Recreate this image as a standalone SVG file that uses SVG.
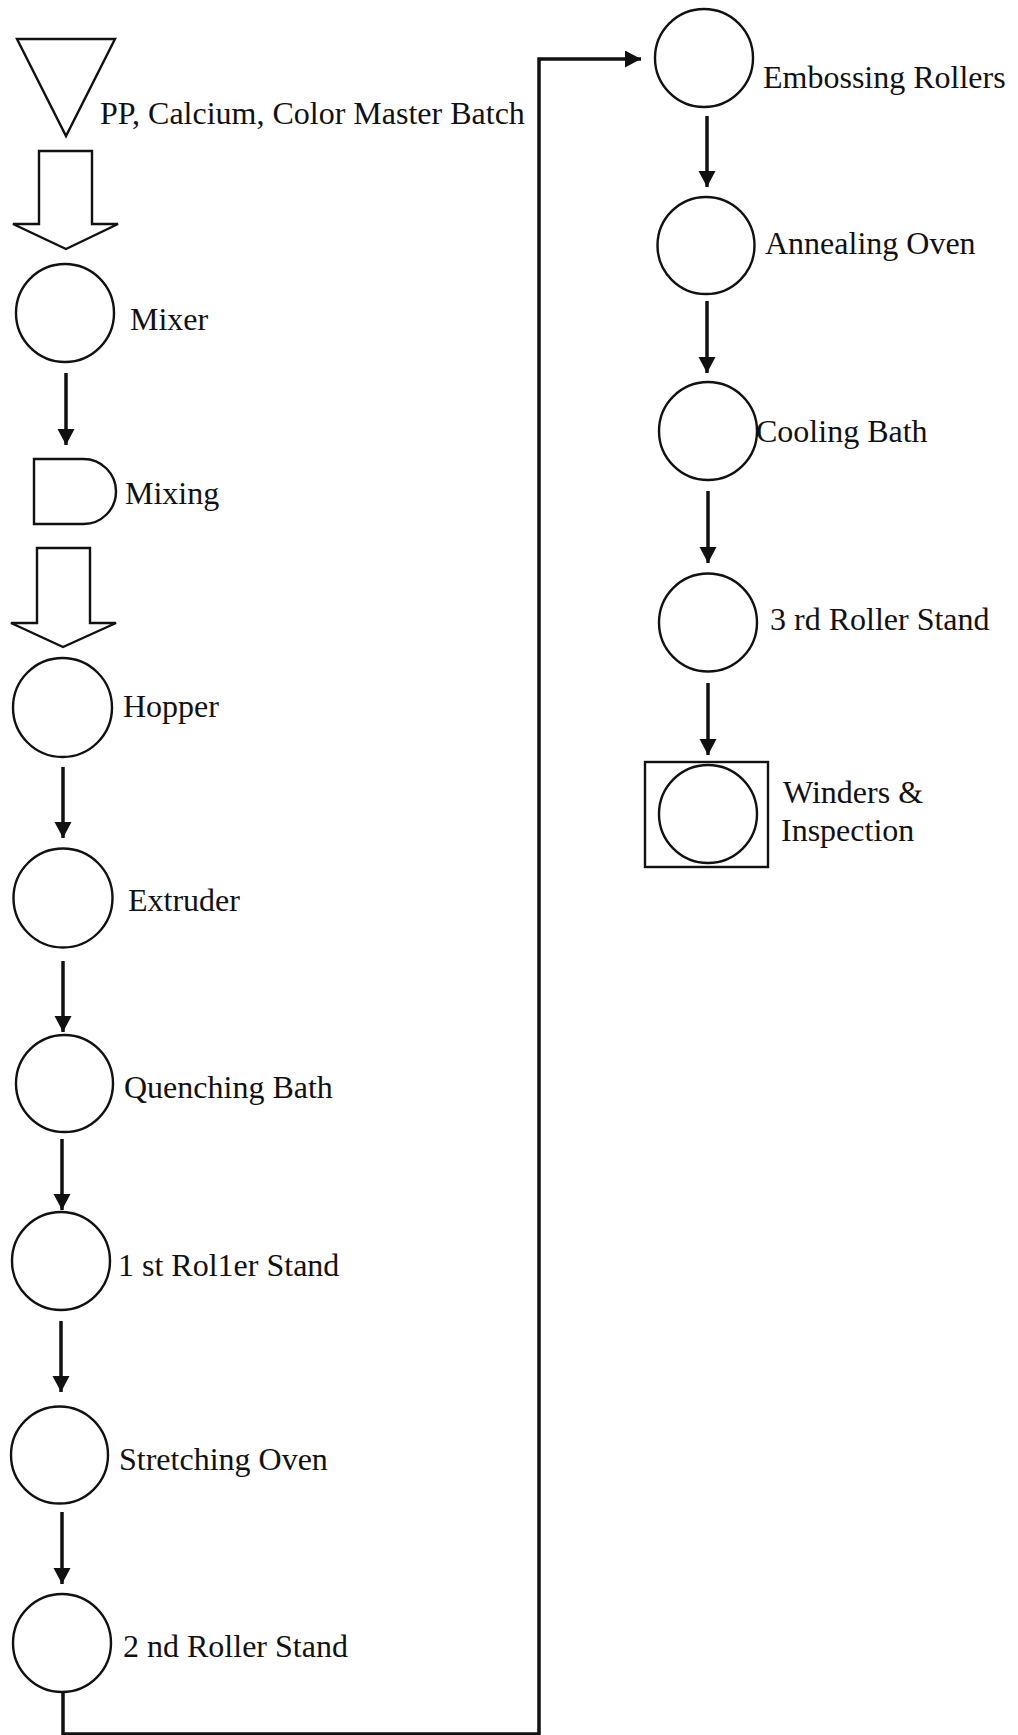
<svg xmlns="http://www.w3.org/2000/svg" width="1018" height="1735" viewBox="0 0 1018 1735">
<defs>
<style>
.shape{fill:none;stroke:#111;stroke-width:2.4}
.conn{fill:none;stroke:#111;stroke-width:3.5}
.lbl{font-family:"Liberation Serif","Times New Roman",serif;font-size:32px;fill:#111}
</style>
<marker id="ah" markerUnits="userSpaceOnUse" markerWidth="18" markerHeight="18" refX="16" refY="8.5" orient="auto">
<path d="M0,0 L16,8.5 L0,17 Z" fill="#111"/>
</marker>
</defs>
<rect width="1018" height="1735" fill="#fff"/>
<g id="connectors">
<line class="conn" x1="66" y1="373" x2="66" y2="445" marker-end="url(#ah)"/>
<line class="conn" x1="63" y1="767" x2="63" y2="838" marker-end="url(#ah)"/>
<line class="conn" x1="63" y1="961" x2="63" y2="1032" marker-end="url(#ah)"/>
<line class="conn" x1="62" y1="1139" x2="62" y2="1210" marker-end="url(#ah)"/>
<line class="conn" x1="61" y1="1321" x2="61" y2="1392" marker-end="url(#ah)"/>
<line class="conn" x1="62" y1="1512" x2="62" y2="1584" marker-end="url(#ah)"/>
<path class="conn" d="M63,1692 V1734 H539 V59 H641" marker-end="url(#ah)"/>
<line class="conn" x1="707" y1="116" x2="707" y2="187" marker-end="url(#ah)"/>
<line class="conn" x1="707" y1="301" x2="707" y2="373" marker-end="url(#ah)"/>
<line class="conn" x1="708" y1="491" x2="708" y2="563" marker-end="url(#ah)"/>
<line class="conn" x1="708" y1="683" x2="708" y2="755" marker-end="url(#ah)"/>
<polygon id="flow1" class="shape" points="39,151 92,151 92,224 118,224 66,249 13,224 39,224"/>
<polygon id="flow2" class="shape" points="37,548 90,548 90,623 116,623 63,647 11,623 37,623"/>
</g>
<g id="input">
<polygon class="shape" points="17,39 115,39 66,136"/>
<text class="lbl" x="100" y="124">PP, Calcium, Color Master Batch</text>
</g>
<g id="mixer">
<circle class="shape" cx="65" cy="313" r="49"/>
<text class="lbl" x="130" y="330">Mixer</text>
</g>
<g id="mixing">
<path class="shape" d="M34,459 H83.5 A32.5,32.5 0 0 1 83.5,524 H34 Z"/>
<text class="lbl" x="125" y="504">Mixing</text>
</g>
<g id="hopper">
<circle class="shape" cx="62.5" cy="707.5" r="49.5"/>
<text class="lbl" x="123" y="717">Hopper</text>
</g>
<g id="extruder">
<circle class="shape" cx="63" cy="898" r="49.5"/>
<text class="lbl" x="128" y="911">Extruder</text>
</g>
<g id="quenching">
<circle class="shape" cx="64.5" cy="1083.5" r="48.5"/>
<text class="lbl" x="124" y="1098">Quenching Bath</text>
</g>
<g id="roller1">
<circle class="shape" cx="61" cy="1261" r="49"/>
<text class="lbl" x="118" y="1276">1 st Rol1er Stand</text>
</g>
<g id="stretching">
<circle class="shape" cx="59.5" cy="1455" r="48.5"/>
<text class="lbl" x="119" y="1470">Stretching Oven</text>
</g>
<g id="roller2">
<circle class="shape" cx="62" cy="1643" r="49"/>
<text class="lbl" x="123" y="1657">2 nd Roller Stand</text>
</g>
<g id="embossing">
<circle class="shape" cx="704" cy="58" r="49"/>
<text class="lbl" x="763" y="88">Embossing Rollers</text>
</g>
<g id="annealing">
<circle class="shape" cx="706" cy="245.5" r="48.5"/>
<text class="lbl" x="765" y="254">Annealing Oven</text>
</g>
<g id="cooling">
<circle class="shape" cx="708" cy="431" r="49"/>
<text class="lbl" x="756" y="442">Cooling Bath</text>
</g>
<g id="roller3">
<circle class="shape" cx="708" cy="622.5" r="49"/>
<text class="lbl" x="770" y="630">3 rd Roller Stand</text>
</g>
<g id="winders">
<rect class="shape" x="645" y="762" width="123" height="105"/>
<circle class="shape" cx="708" cy="814" r="49"/>
<text class="lbl" x="783" y="803">Winders &amp;</text>
<text class="lbl" x="781" y="841">Inspection</text>
</g>
</svg>
